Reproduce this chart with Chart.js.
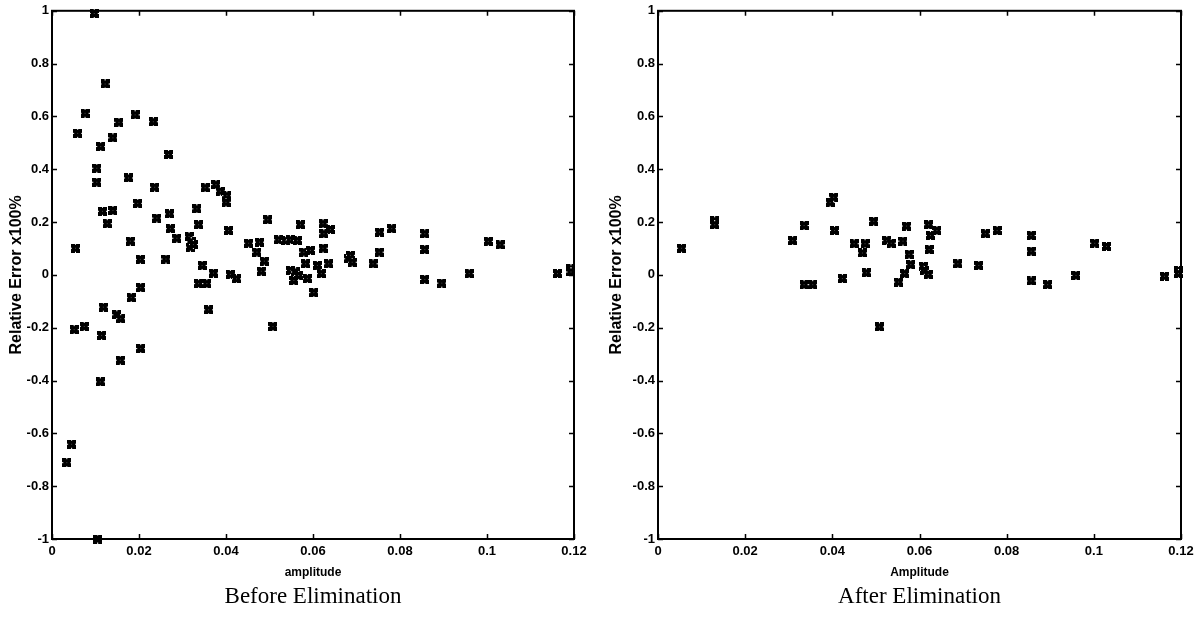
<!DOCTYPE html>
<html>
<head>
<meta charset="utf-8">
<script src="https://cdn.jsdelivr.net/npm/chart.js@4/dist/chart.umd.min.js"></script>
<style>
  html, body { margin:0; padding:0; background:#fff; }
  body { width:1201px; height:622px; position:relative; overflow:hidden; }
  #c1 { position:absolute; left:0; top:0; }
  #c2 { position:absolute; left:600px; top:0; }
</style>
</head>
<body>
<canvas id="c1" width="600" height="622"></canvas>
<canvas id="c2" width="601" height="622"></canvas>
<script>
// ---- data ----
const beforeAmplitude = [
  0.0097,0.0122,0.0076,0.0059,0.0154,0.0191,0.0233,0.0140,0.0112,0.0268,
  0.0103,0.0103,0.0176,0.0236,0.0352,0.0377,0.0387,0.0402,0.0400,0.0197,
  0.0116,0.0140,0.0127,0.0241,0.0270,0.0272,0.0287,0.0315,0.0320,0.0318,
  0.0325,0.0333,0.0337,0.0054,0.0180,0.0203,0.0262,0.0345,0.0371,0.0337,
  0.0356,0.0410,0.0424,0.0360,0.0204,0.0182,0.0118,0.0149,0.0158,0.0051,
  0.0074,0.0114,0.0204,0.0157,0.0111,0.0045,0.0034,0.0105,0.0406,0.0496,
  0.0452,0.0477,0.0471,0.0488,0.0481,0.0508,0.0521,0.0537,0.0548,0.0564,
  0.0571,0.0579,0.0594,0.0583,0.0548,0.0560,0.0556,0.0567,0.0587,0.0602,
  0.0623,0.0640,0.0625,0.0623,0.0610,0.0619,0.0636,0.0682,0.0686,0.0690,
  0.0738,0.0753,0.0752,0.0781,0.0857,0.0857,0.0857,0.0896,0.0959,0.1003,
  0.1030,0.1162,0.1193,0.1193
];
const beforeError = [
  0.990,0.723,0.612,0.536,0.578,0.606,0.580,0.519,0.486,0.456,
  0.404,0.351,0.367,0.332,0.330,0.342,0.317,0.300,0.275,0.271,
  0.241,0.244,0.194,0.215,0.231,0.175,0.139,0.145,0.125,0.105,
  0.115,0.250,0.190,0.101,0.128,0.059,0.060,0.036,0.007,-0.033,
  -0.033,0.002,-0.015,-0.132,-0.048,-0.086,-0.122,-0.151,-0.166,-0.207,
  -0.195,-0.229,-0.279,-0.323,-0.405,-0.641,-0.711,-1.000,0.168,0.209,
  0.120,0.124,0.086,0.052,0.014,-0.195,0.133,0.130,0.133,0.130,
  0.190,0.086,0.093,0.042,0.017,0.011,-0.021,-0.002,-0.014,-0.067,
  0.194,0.172,0.156,0.101,0.036,0.005,0.042,0.061,0.074,0.048,
  0.042,0.162,0.086,0.175,0.156,0.096,-0.017,-0.031,0.005,0.127,
  0.114,0.005,0.023,0.011
];
const afterAmplitude = [
  0.0054,0.0130,0.0130,0.0309,0.0335,0.0335,0.0355,0.0395,0.0403,0.0405,
  0.0423,0.0450,0.0475,0.0469,0.0495,0.0478,0.0508,0.0525,0.0535,0.0552,
  0.0562,0.0570,0.0576,0.0580,0.0566,0.0609,0.0611,0.0620,0.0621,0.0625,
  0.0640,0.0622,0.0688,0.0736,0.0751,0.0778,0.0856,0.0856,0.0856,0.0894,
  0.0959,0.1002,0.1029,0.1162,0.1194,0.1194
];
const afterError = [
  0.101,0.205,0.190,0.130,0.187,-0.037,-0.037,0.275,0.294,0.168,
  -0.014,0.118,0.118,0.083,0.203,0.008,-0.197,0.130,0.120,-0.027,
  0.128,0.185,0.078,0.039,0.005,0.033,0.017,0.002,0.190,0.149,
  0.168,0.096,0.042,0.036,0.156,0.168,0.149,0.090,-0.023,-0.037,
  -0.002,0.120,0.108,-0.005,0.017,0.005
];
const xTickValues = [0,0.02,0.04,0.06,0.08,0.1,0.12];
const xTickLabels = ['0','0.02','0.04','0.06','0.08','0.1','0.12'];
const yTickValues = [-1,-0.8,-0.6,-0.4,-0.2,0,0.2,0.4,0.6,0.8,1];
const yTickLabels = ['-1','-0.8','-0.6','-0.4','-0.2','0','0.2','0.4','0.6','0.8','1'];
const yTitle = 'Relative Error x100%';
const panelTitles = ['Before Elimination','After Elimination'];
const xTitles = ['amplitude','Amplitude'];

// ---- marker ----
function makeMarker(){
  const c = document.createElement('canvas');
  c.width = 9; c.height = 9;
  const g = c.getContext('2d');
  g.fillStyle = '#000';
  g.fillRect(0,0,9,9);
  g.fillStyle = '#fff';
  g.fillRect(4,0,1,1); g.fillRect(4,8,1,1); g.fillRect(0,4,1,1); g.fillRect(8,4,1,1);
  g.fillStyle = '#444';
  g.fillRect(4,4,1,1);
  return c;
}
const marker = makeMarker();

const frame = {
  id: 'frame',
  afterDraw(chart){
    const {ctx, chartArea:a, scales:{x, y}} = chart;
    ctx.save();
    ctx.strokeStyle = '#000';
    ctx.lineWidth = 2;
    ctx.strokeRect(a.left, a.top, a.right - a.left, a.bottom - a.top);
    ctx.lineWidth = 1.5;
    ctx.beginPath();
    xTickValues.forEach(v => {
      const px = Math.round(x.getPixelForValue(v)) + 0.5;
      ctx.moveTo(px, a.bottom); ctx.lineTo(px, a.bottom - 5);
      ctx.moveTo(px, a.top); ctx.lineTo(px, a.top + 5);
    });
    yTickValues.forEach(v => {
      const py = Math.round(y.getPixelForValue(v)) + 0.5;
      ctx.moveTo(a.left, py); ctx.lineTo(a.left + 5, py);
      ctx.moveTo(a.right, py); ctx.lineTo(a.right - 5, py);
    });
    ctx.stroke();
    ctx.restore();
  }
};

const sansBold = (size) => ({family: "'Liberation Sans', Arial, sans-serif", size: size, weight: 'bold'});

function makeChart(id, xs, ys, xTitle, title, yAxisWidth, rightPad){
  const pts = xs.map((v,i) => ({x: v, y: ys[i]}));
  return new Chart(document.getElementById(id), {
    type: 'scatter',
    data: { datasets: [{ data: pts, pointStyle: marker, pointRadius: 4.5, clip: 12 }] },
    options: {
      responsive: false,
      animation: false,
      devicePixelRatio: 1,
      layout: { padding: { left: 0, right: rightPad, top: 10, bottom: 0 } },
      plugins: {
        legend: { display: false },
        tooltip: { enabled: false },
        title: {
          display: true, position: 'bottom', fullSize: false, text: title, color: '#000',
          font: { family: "'Liberation Serif', 'DejaVu Serif', serif", size: 23, weight: 'normal', lineHeight: 1.2 },
          padding: { top: 2, bottom: 11.4 }
        }
      },
      scales: {
        x: {
          type: 'linear', min: 0, max: 0.12,
          afterBuildTicks: s => { s.ticks = xTickValues.map(v => ({value: v})); },
          afterFit: s => { s.height = 42; },
          ticks: { callback: (v, i) => xTickLabels[i], color: '#000', font: sansBold(13), padding: 5, maxRotation: 0, autoSkip: false },
          grid: { display: false, drawTicks: false },
          border: { display: false },
          title: { display: true, text: xTitle, color: '#000', font: sansBold(12), padding: { top: 0, bottom: 1 } }
        },
        y: {
          type: 'linear', min: -1, max: 1,
          afterBuildTicks: s => { s.ticks = yTickValues.map(v => ({value: v})); },
          afterFit: s => { s.width = yAxisWidth; },
          ticks: { callback: (v, i) => yTickLabels[i], color: '#000', font: sansBold(13), padding: 3, autoSkip: false },
          grid: { display: false, drawTicks: false },
          border: { display: false },
          title: { display: true, text: yTitle, color: '#000', font: sansBold(16), padding: { top: 6.5, bottom: 0 } }
        }
      }
    },
    plugins: [frame]
  });
}

makeChart('c1', beforeAmplitude, beforeError, xTitles[0], panelTitles[0], 52, 26);
makeChart('c2', afterAmplitude, afterError, xTitles[1], panelTitles[1], 58, 20);
</script>
</body>
</html>
